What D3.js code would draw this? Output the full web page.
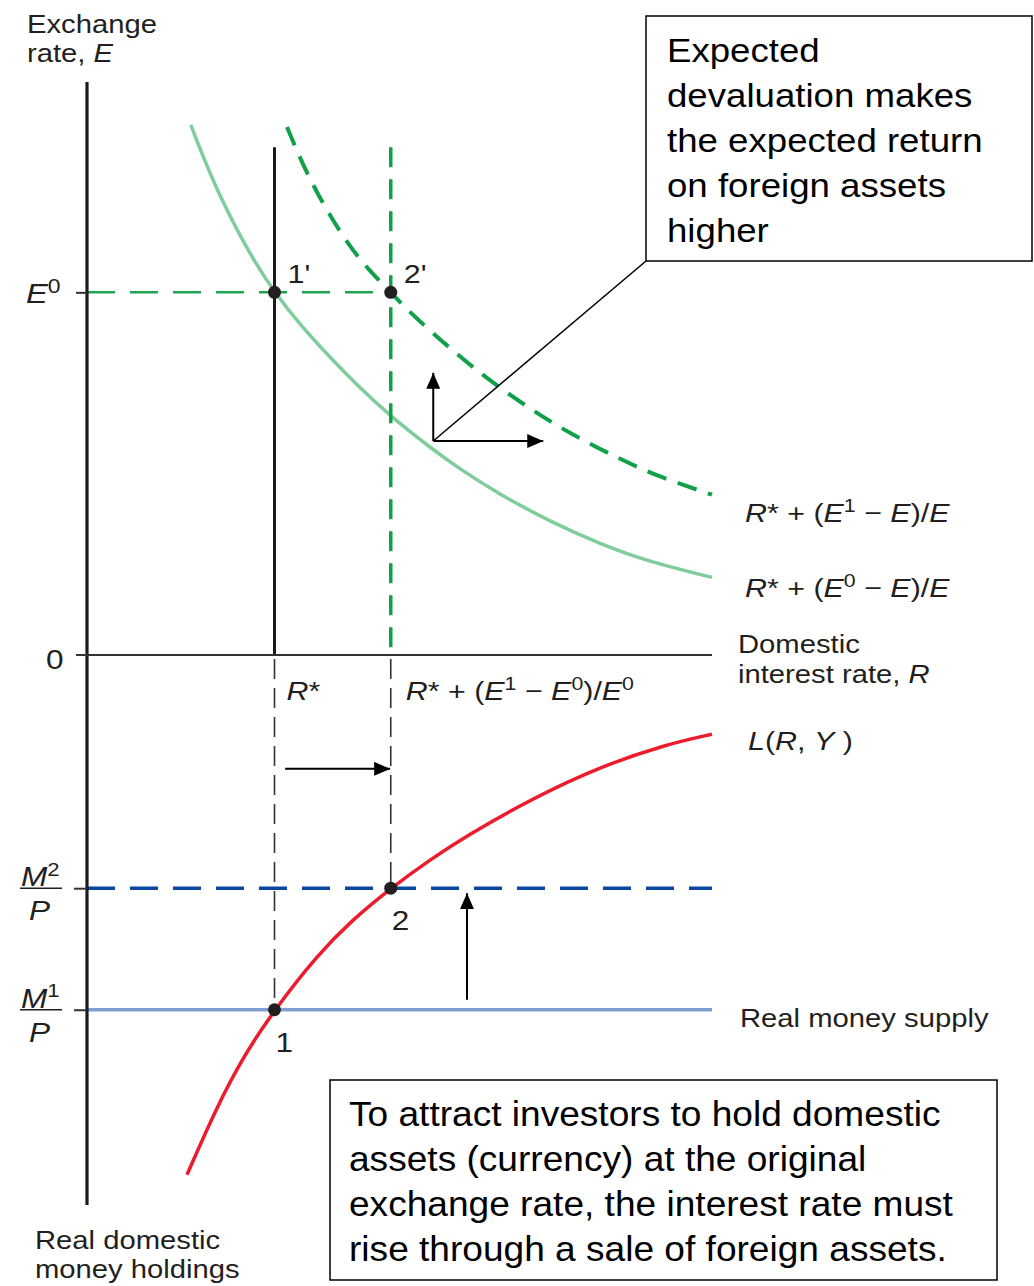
<!DOCTYPE html>
<html><head><meta charset="utf-8">
<script src="https://cdn.jsdelivr.net/npm/d3@7"></script>
<style>body{margin:0;background:#fff}svg{display:block}</style>
</head><body><svg id="c" width="1034" height="1286"></svg>
<script>
// ---- data (R = domestic interest rate, E = exchange rate, m = real money holdings) ----
const R_star = 3.0, R_two = 4.86, E_zero = 5.0, M_one = 6.45, M_two = 4.24;
const R_max = 10, E_max = 7.9, E_vertTop = 7.0, M_max = 10;

// R* + (E0 - E)/E   [R, E]
const curveE0 = [[1.66,7.31],[1.89,6.80],[2.13,6.32],[2.40,5.86],[2.69,5.41],[3.00,5.00],[3.41,4.55],[3.89,4.10],[4.37,3.68],[4.86,3.29],[5.49,2.86],[5.97,2.56],[6.61,2.21],[7.41,1.84],[8.21,1.53],[9.01,1.28],[10.0,1.07]];
// R* + (E1 - E)/E   [R, E]
const curveE1 = [[3.20,7.28],[3.46,6.74],[3.81,6.16],[4.21,5.62],[4.53,5.29],[4.86,5.00],[5.09,4.79],[5.49,4.47],[5.97,4.11],[6.45,3.78],[7.04,3.42],[7.73,3.05],[8.53,2.70],[9.17,2.45],[10.0,2.21]];
// L(R, Y)   [R, m]
const moneyDemand = [[1.60,9.45],[2.05,8.28],[2.50,7.30],[3.00,6.45],[3.68,5.46],[4.26,4.80],[4.86,4.24],[5.49,3.72],[6.08,3.28],[7.14,2.60],[8.21,2.03],[9.28,1.62],[10.0,1.44]];

const eqTop = [{R:R_star,E:E_zero,lab:"1'"},{R:R_two,E:E_zero,lab:"2'"}];
const eqBottom = [{R:R_star,m:M_one,lab:"1"},{R:R_two,m:M_two,lab:"2"}];

// annotation arrows
const shiftArrowOrigin = {R:5.54, E:2.95}, shiftArrowUpE = 3.89, shiftArrowRightR = 7.30;
const rArrow = {R0:3.17, R1:4.85, m:2.07};
const mArrow = {R:6.08, m0:6.27, m1:4.33};

const boxTopLines = ["Expected","devaluation makes","the expected return","on foreign assets","higher"];
const boxBottomLines = ["To attract investors to hold domestic","assets (currency) at the original","exchange rate, the interest rate must","rise through a sale of foreign assets."];

// ---- drawing ----
const svg = d3.select("#c");
const x = d3.scaleLinear().domain([0,R_max]).range([87,712]);
const yE = d3.scaleLinear().domain([0,E_max]).range([655,82]);
const yM = d3.scaleLinear().domain([0,M_max]).range([655,1205]);
const FONT = "'Liberation Sans', Arial, Helvetica, sans-serif";
const SX = 1.17;
const INK = "#231f20";

const defs = svg.append("defs");
defs.append("marker").attr("id","ah").attr("viewBox","0 0 16 14").attr("refX",16).attr("refY",7)
  .attr("markerWidth",16).attr("markerHeight",14).attr("markerUnits","userSpaceOnUse").attr("orient","auto")
  .append("path").attr("d","M0,0L16,7L0,14Z").attr("fill","#000");

function txt(px, py, parts, size, opts={}) {
  const t = svg.append("text")
    .attr("transform",`translate(${px},${py}) scale(${opts.sx||SX},1)`)
    .attr("font-family",FONT).attr("font-size",size).attr("fill",opts.fill||INK);
  const up = size*0.38;
  let raised = false;
  parts.forEach(p => {
    const [s, st] = Array.isArray(p) ? p : [p, ""];
    const ts = t.append("tspan").text(s);
    if (st.includes("i")) ts.attr("font-style","italic");
    if (st.includes("s")) {
      ts.attr("font-size", size*0.7);
      if (!raised) { ts.attr("dy", -up); raised = true; }
    } else if (raised) { ts.attr("dy", up); raised = false; }
  });
  return t;
}

// curves
const lineE = d3.line().x(d=>x(d[0])).y(d=>yE(d[1])).curve(d3.curveBasis);
const lineM = d3.line().x(d=>x(d[0])).y(d=>yM(d[1])).curve(d3.curveBasis);

// E0 dashed horizontal
svg.append("line").attr("x1",x(0)).attr("x2",x(R_two)).attr("y1",yE(E_zero)).attr("y2",yE(E_zero))
  .attr("stroke","#1fa552").attr("stroke-width",2.5).attr("stroke-dasharray","28,15");

svg.append("path").datum(curveE0).attr("d",lineE).attr("fill","none").attr("stroke","#7fcc9c").attr("stroke-width",3.5);
svg.append("path").datum(curveE1).attr("d",lineE).attr("fill","none").attr("stroke","#10a04a").attr("stroke-width",4).attr("stroke-dasharray","20,12");

// verticals upper
svg.append("line").attr("x1",x(R_star)).attr("x2",x(R_star)).attr("y1",yE(E_vertTop)).attr("y2",yE(0))
  .attr("stroke","#1a1a1a").attr("stroke-width",3);
svg.append("line").attr("x1",x(R_two)).attr("x2",x(R_two)).attr("y1",yE(E_vertTop)).attr("y2",yE(0))
  .attr("stroke","#10a04a").attr("stroke-width",3.5).attr("stroke-dasharray","20,12");

// verticals lower (thin dashed)
[[R_star,M_one],[R_two,M_two]].forEach(([r,m])=>{
  svg.append("line").attr("x1",x(r)).attr("x2",x(r)).attr("y1",yM(0)+4).attr("y2",yM(m))
    .attr("stroke","#333").attr("stroke-width",1.6).attr("stroke-dasharray","20,9");
});

// money supply lines
svg.append("line").attr("x1",x(0)).attr("x2",x(R_max)).attr("y1",yM(M_one)).attr("y2",yM(M_one))
  .attr("stroke","#7f9fd3").attr("stroke-width",3.5);
svg.append("line").attr("x1",x(0)).attr("x2",x(R_max)).attr("y1",yM(M_two)).attr("y2",yM(M_two))
  .attr("stroke","#0b479e").attr("stroke-width",3.5).attr("stroke-dasharray","28,15");

// money demand
svg.append("path").datum(moneyDemand).attr("d",lineM).attr("fill","none").attr("stroke","#ec1c2e").attr("stroke-width",3.5);

// axes
svg.append("line").attr("x1",x(0)).attr("x2",x(0)).attr("y1",yE(E_max)).attr("y2",yM(M_max))
  .attr("stroke","#1a1a1a").attr("stroke-width",3.2);
svg.append("line").attr("x1",x(0)-11).attr("x2",x(R_max)).attr("y1",yE(0)).attr("y2",yE(0))
  .attr("stroke","#333").attr("stroke-width",2);
const axE = svg.append("g").attr("transform",`translate(${x(0)},0)`)
  .call(d3.axisLeft(yE).tickValues([E_zero]).tickSize(11).tickFormat(""));
const axM = svg.append("g").attr("transform",`translate(${x(0)},0)`)
  .call(d3.axisLeft(yM).tickValues([M_two,M_one]).tickSize(13).tickFormat(""));
[axE,axM].forEach(a=>{a.select(".domain").remove(); a.selectAll(".tick line").attr("stroke","#333").attr("stroke-width",2);});

// dots
svg.selectAll("circle.top").data(eqTop).join("circle").attr("cx",d=>x(d.R)).attr("cy",d=>yE(d.E)).attr("r",6.5).attr("fill",INK);
svg.selectAll("circle.bot").data(eqBottom).join("circle").attr("cx",d=>x(d.R)).attr("cy",d=>yM(d.m)).attr("r",6.5).attr("fill",INK);
eqTop.forEach(d=>txt(x(d.R)+13, yE(d.E)-9, [d.lab], 26));
eqBottom.forEach(d=>txt(x(d.R)+1, yM(d.m)+42, [d.lab], 27));

// arrows
const o = shiftArrowOrigin;
svg.append("line").attr("x1",x(o.R)).attr("y1",yE(o.E)).attr("x2",x(o.R)).attr("y2",yE(shiftArrowUpE))
  .attr("stroke","#000").attr("stroke-width",2).attr("marker-end","url(#ah)");
svg.append("line").attr("x1",x(o.R)).attr("y1",yE(o.E)).attr("x2",x(shiftArrowRightR)).attr("y2",yE(o.E))
  .attr("stroke","#000").attr("stroke-width",2).attr("marker-end","url(#ah)");
svg.append("line").attr("x1",x(o.R)).attr("y1",yE(o.E)).attr("x2",646).attr("y2",261)
  .attr("stroke","#000").attr("stroke-width",1.5);
svg.append("line").attr("x1",x(rArrow.R0)).attr("y1",yM(rArrow.m)).attr("x2",x(rArrow.R1)).attr("y2",yM(rArrow.m))
  .attr("stroke","#000").attr("stroke-width",2).attr("marker-end","url(#ah)");
svg.append("line").attr("x1",x(mArrow.R)).attr("y1",yM(mArrow.m0)).attr("x2",x(mArrow.R)).attr("y2",yM(mArrow.m1))
  .attr("stroke","#000").attr("stroke-width",2).attr("marker-end","url(#ah)");

// axis labels
txt(27,33,["Exchange"],25);
txt(27,62,["rate, ",["E","i"]],25);
txt(26,yE(E_zero)+11,[["E","i"],["0","s"]],28);
txt(46,yE(0)+14,["0"],27);
txt(35,1249,["Real domestic"],25);
txt(35,1278,["money holdings"],25);

// fraction labels
[[M_two,"2"],[M_one,"1"]].forEach(([m,s])=>{
  const yy = yM(m);
  txt(21,yy-2,[["M","i"],[s,"s"]],27);
  svg.append("line").attr("x1",20).attr("x2",62).attr("y1",yy).attr("y2",yy).attr("stroke",INK).attr("stroke-width",1.6);
  txt(29,yy+32,[["P","i"]],27);
});

// R labels
txt(x(R_star)+12,700,[["R","i"],"*"],26);
txt(x(R_two)+15,700,[["R","i"],"* + (",["E","i"],["1","s"]," − ",["E","i"],["0","s"],")/",["E","i"],["0","s"]],26);

// right labels
txt(745,522,[["R","i"],"* + (",["E","i"],["1","s"]," − ",["E","i"],")/",["E","i"]],26);
txt(745,597,[["R","i"],"* + (",["E","i"],["0","s"]," − ",["E","i"],")/",["E","i"]],26);
txt(738,653,["Domestic"],25);
txt(738,683,["interest rate, ",["R","i"]],25);
txt(748,750,[["L","i"],"(",["R","i"],", ",["Y","i"]," )"],26);
txt(740,1027,["Real money supply"],25);

// text boxes
svg.append("rect").attr("x",646).attr("y",16).attr("width",386).attr("height",245)
  .attr("fill","#fff").attr("stroke","#000").attr("stroke-width",1.5);
boxTopLines.forEach((l,i)=>txt(667,62+45*i,[l],33,{fill:"#000",sx:1.11}));
svg.append("rect").attr("x",330).attr("y",1080).attr("width",667).attr("height",200)
  .attr("fill","#fff").attr("stroke","#000").attr("stroke-width",1.5);
boxBottomLines.forEach((l,i)=>txt(349,1126+45*i,[l],35,{fill:"#000",sx:1.06}));
</script></body></html>
